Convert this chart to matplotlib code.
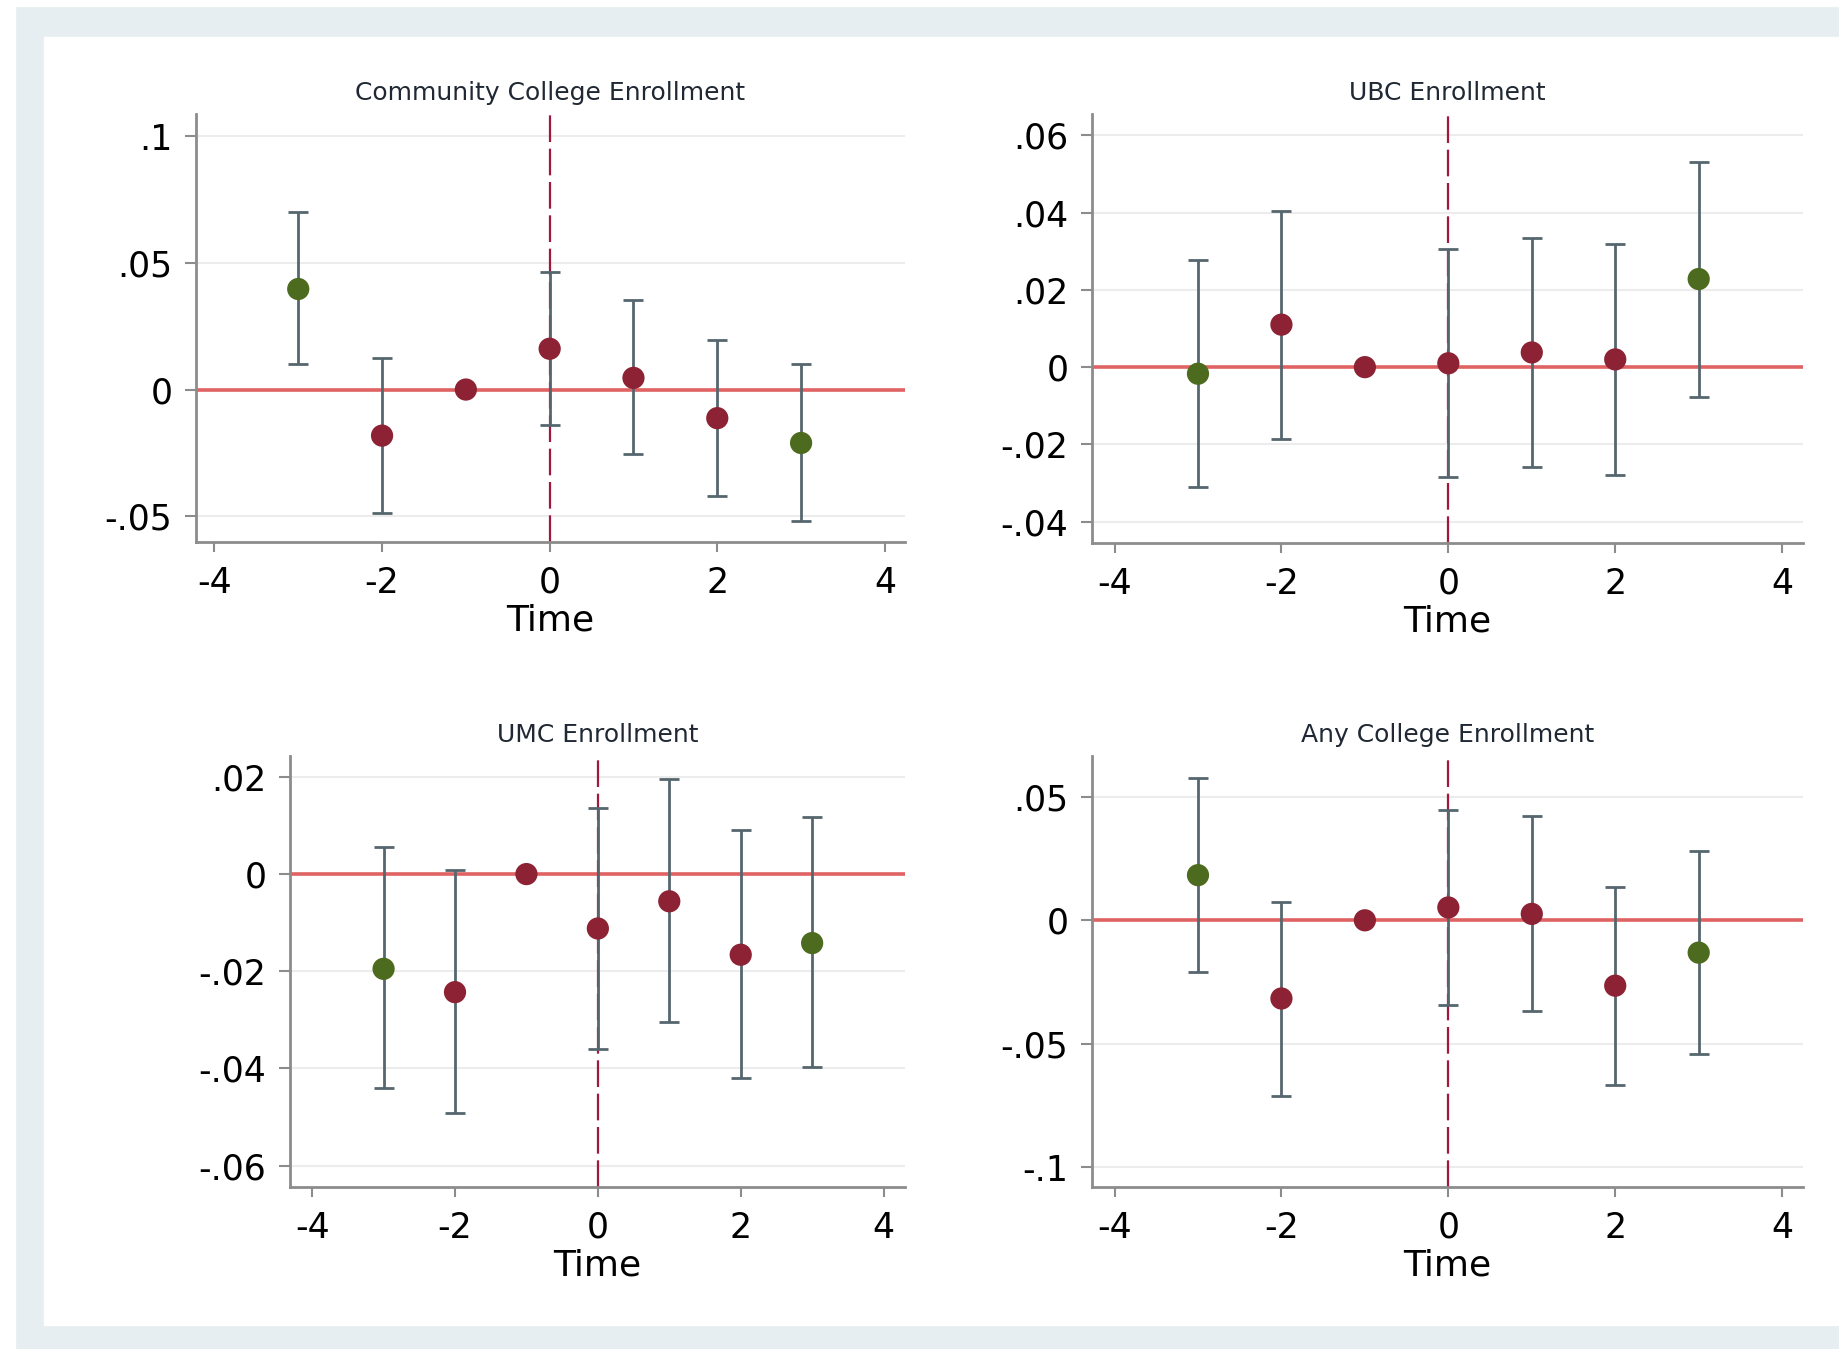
import numpy as np
import matplotlib
matplotlib.use("Agg")
import matplotlib.pyplot as plt
from matplotlib.patches import Rectangle

# event time
times = [-3, -2, -1, 0, 1, 2, 3]
point_colors = ['#4d6b1f', '#8c2233', '#8c2233', '#8c2233', '#8c2233', '#8c2233', '#4d6b1f']

# Community College Enrollment
cc_est = [0.0397, -0.0182, 0.0, 0.0161, 0.0046, -0.0113, -0.0211]
cc_lo = [0.0101, -0.0488, np.nan, -0.0139, -0.0255, -0.0421, -0.0519]
cc_hi = [0.0700, 0.0123, np.nan, 0.0466, 0.0353, 0.0195, 0.0101]

# UBC Enrollment
ubc_est = [-0.0017, 0.0110, 0.0, 0.0010, 0.0038, 0.0020, 0.0228]
ubc_lo = [-0.0309, -0.0187, np.nan, -0.0284, -0.0259, -0.0279, -0.0076]
ubc_hi = [0.0278, 0.0404, np.nan, 0.0306, 0.0334, 0.0319, 0.0530]

# UMC Enrollment
umc_est = [-0.0195, -0.0243, 0.0, -0.0112, -0.0056, -0.0166, -0.0142]
umc_lo = [-0.0441, -0.0492, np.nan, -0.0361, -0.0305, -0.0419, -0.0398]
umc_hi = [0.0055, 0.0009, np.nan, 0.0137, 0.0196, 0.0090, 0.0117]

# Any College Enrollment
any_est = [0.0183, -0.0317, 0.0, 0.0052, 0.0026, -0.0265, -0.0131]
any_lo = [-0.0209, -0.0714, np.nan, -0.0343, -0.0369, -0.0667, -0.0540]
any_hi = [0.0578, 0.0075, np.nan, 0.0449, 0.0422, 0.0136, 0.0282]

x_ticks = [-4, -2, 0, 2, 4]

W, H = 1839, 1349
fig = plt.figure(figsize=(W / 100, H / 100), dpi=100)
fig.patch.set_facecolor('#e6eef1')

# white outer strips and inner white panel
fig.add_artist(Rectangle((0, 0), 15 / W, 1, transform=fig.transFigure, color='white', zorder=-10))
fig.add_artist(Rectangle((0, 1 - 6 / H), 1, 6 / H, transform=fig.transFigure, color='white', zorder=-10))
fig.add_artist(Rectangle((44 / W, (H - 1325) / H), (W - 44) / W, (1325 - 37) / H,
                         transform=fig.transFigure, color='white', zorder=-10))


def px_axes(left, top, right, bottom):
    return fig.add_axes([left / W, 1 - bottom / H, (right - left) / W, (bottom - top) / H])


def draw_panel(ax, title, est, lo, hi, xlim, ylim, yticks, yticklabels):
    est = np.array(est)
    lo = np.array(lo)
    hi = np.array(hi)
    t = np.array(times)
    ax.set_facecolor('white')
    ax.set_xlim(*xlim)
    ax.set_ylim(*ylim)
    for yt in yticks:
        ax.axhline(yt, color='#ececec', lw=1.5, zorder=0)
    ax.axhline(0, color='#e06262', lw=2.6, zorder=1)
    ax.axvline(0, color='#a3173f', lw=1.6, ls=(0, (12, 3)), zorder=1, clip_on=False)
    ok = ~np.isnan(lo)
    ax.errorbar(t[ok], est[ok], yerr=[est[ok] - lo[ok], hi[ok] - est[ok]], fmt='none',
                ecolor='#56666f', elinewidth=2, capsize=7, capthick=2, zorder=2)
    ax.scatter(t, est, s=16 ** 2, c=point_colors, zorder=3, edgecolors='none')
    ax.set_xticks(x_ticks)
    ax.set_xticklabels([str(v) for v in x_ticks])
    ax.set_yticks(yticks)
    ax.set_yticklabels(yticklabels)
    ax.spines['top'].set_visible(False)
    ax.spines['right'].set_visible(False)
    for s in ['left', 'bottom']:
        ax.spines[s].set_color('#8c8c8c')
        ax.spines[s].set_linewidth(2)
    ax.tick_params(axis='y', length=8, width=1.5, color='#8c8c8c', labelsize=25, pad=9)
    ax.tick_params(axis='x', length=7, width=1.5, color='#8c8c8c', labelsize=25, pad=10)
    ax.set_xlabel('Time', fontsize=26, labelpad=3)
    ax.set_title(title, fontsize=18, color='#1f2833', pad=10)


ax1 = px_axes(196, 114, 905, 542)
draw_panel(ax1, 'Community College Enrollment', cc_est, cc_lo, cc_hi,
           (-4.22, 4.24), (-0.0602, 0.1088),
           [-0.05, 0, 0.05, 0.1], ['-.05', '0', '.05', '.1'])

ax2 = px_axes(1092, 114, 1803, 543)
draw_panel(ax2, 'UBC Enrollment', ubc_est, ubc_lo, ubc_hi,
           (-4.27, 4.25), (-0.0455, 0.0655),
           [-0.04, -0.02, 0, 0.02, 0.04, 0.06], ['-.04', '-.02', '0', '.02', '.04', '.06'])

ax3 = px_axes(290, 756, 905, 1187)
draw_panel(ax3, 'UMC Enrollment', umc_est, umc_lo, umc_hi,
           (-4.31, 4.30), (-0.0644, 0.0243),
           [-0.06, -0.04, -0.02, 0, 0.02], ['-.06', '-.04', '-.02', '0', '.02'])

ax4 = px_axes(1092, 756, 1803, 1187)
draw_panel(ax4, 'Any College Enrollment', any_est, any_lo, any_hi,
           (-4.27, 4.25), (-0.1081, 0.0666),
           [-0.1, -0.05, 0, 0.05], ['-.1', '-.05', '0', '.05'])

fig.savefig('out.png', dpi=100, facecolor=fig.get_facecolor())
